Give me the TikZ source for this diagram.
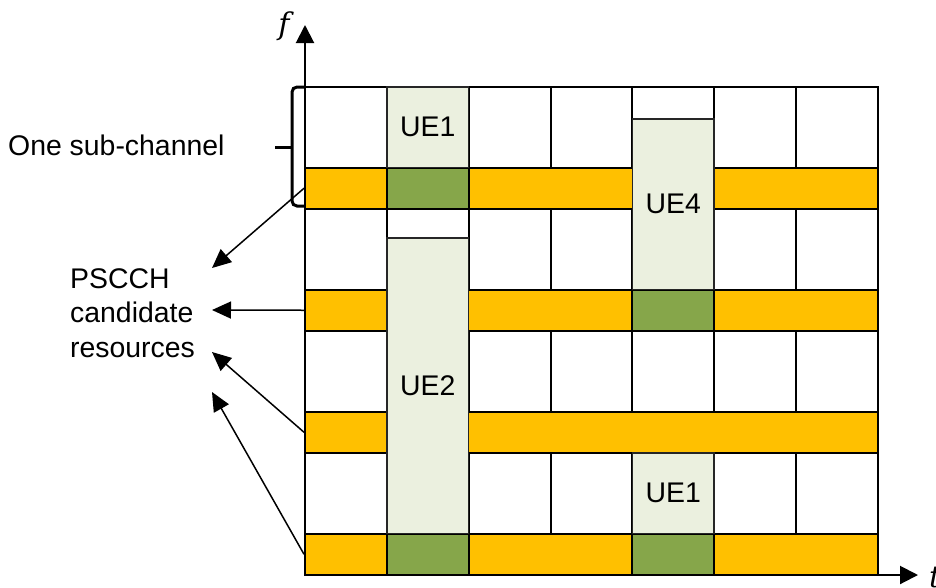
\documentclass[tikz,border=0pt]{standalone}
\usepackage{fontspec}
\setmainfont{Liberation Sans}
\newfontfamily\axisfont{DejaVu Serif}
\usetikzlibrary{arrows.meta,positioning}
\definecolor{bandyellow}{RGB}{255,192,0}
\definecolor{uedark}{RGB}{134,166,74}
\definecolor{uelight}{RGB}{235,240,223}

\begin{document}
\begin{tikzpicture}[x=1pt,y=-1pt,
		cell/.style={draw, line width=2pt, fill=white},
		band/.style={draw, line width=2pt, fill=bandyellow, minimum width=573pt, minimum height=41.5pt, inner sep=0pt},
		used/.style={draw, line width=2pt, fill=uedark, minimum width=81.86pt, minimum height=41.5pt, inner sep=0pt},
		ue/.style={draw=black!85, line width=1.5pt, fill=uelight, minimum width=81.86pt, inner sep=0pt, font=\fontsize{28.4}{34}\selectfont},
		lbl/.style={font=\fontsize{28.4}{34.5}\selectfont, inner sep=0pt},
		axislbl/.style={font=\axisfont\itshape\fontsize{30}{36}\selectfont, inner sep=0pt},
		axis/.style={line width=2pt, -{Triangle[length=18pt,width=18pt]}},
		pointer/.style={line width=1.5pt, -{Triangle[length=19pt,width=17pt]}}]
				\useasboundingbox (0,0) rectangle (936,587);
				
				% White resource grid
				\foreach \r in {0,...,3}
					\foreach \c in {0,...,6}
						\draw[cell] (305+81.86*\c, 87+122*\r) rectangle ++(81.86, 80.5);
				
				% PSCCH bands
				\foreach \r in {1,...,4}
					\node[band] (band\r) at (591.5, 66.25+122*\r) {};
				
				% Used PSCCH cells
				\node[used] (pscch1) at (427.8,188.25) {};
				\node[used] (pscch2) at (427.8,554.25) {};
				\node[used] (pscch4) at (673.3,310.25) {};
				\node[used] (pscch5) at (673.3,554.25) {};
				
				% UE allocations
				\node[ue, minimum height=80.5pt] (ue1a) at (427.8,127.25) {UE1};
				\node[ue, minimum height=295.5pt] (ue2) at (427.8,385.75) {UE2};
				\node[ue, minimum height=170.5pt] (ue4) at (673.3,204.25) {UE4};
				\node[ue, minimum height=80.5pt] (ue1b) at (673.3,493.25) {UE1};
				
				% Axes
				\coordinate (origin) at (305,575);
				\coordinate (fend) at (305,25);
				\coordinate (tend) at (918,575);
				\draw[axis] (origin) -- (fend);
				\draw[axis] (origin) -- (tend);
				\node[axislbl] (flbl) at (284,26) {f};
				\node[axislbl, anchor=west] (tlbl) at (929,577) {t};
				
				% Sub-channel brace
				\draw[line width=3pt, rounded corners=5pt] (305,87) -- (292,87) -- (292,206) -- (305,206);
				\draw[line width=3pt] (275,147) -- (292,147);
				\node[lbl, anchor=west] (subch) at (8,145) {One sub-channel};
				
				% Candidate resources
				\node[lbl, anchor=west, align=left] (cand) at (70,313) {PSCCH\\candidate\\resources};
				\coordinate (p1) at (212,268);
				\coordinate (p2) at (212,310);
				\coordinate (p3) at (212,352);
				\coordinate (p4) at (212,392);
				\draw[pointer] (band1.west) -- (p1);
				\draw[pointer] (band2.west) -- (p2);
				\draw[pointer] (band3.west) -- (p3);
				\draw[pointer] (band4.west) -- (p4);
			\end{tikzpicture}
\end{document}
